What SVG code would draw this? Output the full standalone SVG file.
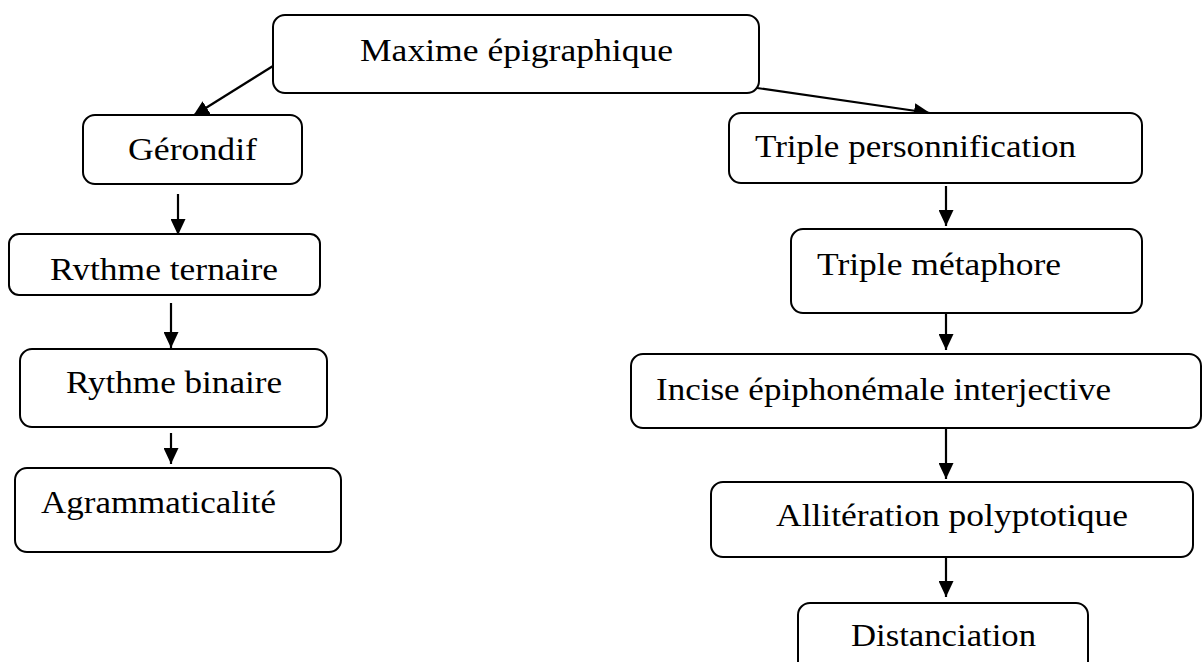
<svg xmlns="http://www.w3.org/2000/svg" width="1203" height="662" viewBox="0 0 1203 662">
<style>
.box{fill:#fff;stroke:#000;stroke-width:2}
.lbl{font-family:"Liberation Serif","Times New Roman",serif;font-size:32px;fill:#000}
.edge{stroke:#000;stroke-width:2.2;fill:none}
</style>
<defs>
<marker id="ah" markerUnits="userSpaceOnUse" markerWidth="16" markerHeight="15" refX="16" refY="7.5" orient="auto">
<path d="M0,0 L16,7.5 L0,15 z" fill="#000"/>
</marker>
<clipPath id="clipRT"><rect x="9" y="234" width="311" height="46"/></clipPath>
</defs>
<rect width="1203" height="662" fill="#fff"/>
<g id="connectors">
<line class="edge" x1="273" y1="66" x2="193" y2="116" marker-end="url(#ah)"/>
<line class="edge" x1="757" y1="88" x2="930" y2="113" marker-end="url(#ah)"/>
<line class="edge" x1="178" y1="194" x2="178" y2="235" marker-end="url(#ah)"/>
<line class="edge" x1="171" y1="303" x2="171" y2="348" marker-end="url(#ah)"/>
<line class="edge" x1="171" y1="433" x2="171" y2="464" marker-end="url(#ah)"/>
<line class="edge" x1="946" y1="186" x2="946" y2="226" marker-end="url(#ah)"/>
<line class="edge" x1="946" y1="313" x2="946" y2="350" marker-end="url(#ah)"/>
<line class="edge" x1="946" y1="428" x2="946" y2="479" marker-end="url(#ah)"/>
<line class="edge" x1="946" y1="557" x2="946" y2="597" marker-end="url(#ah)"/>
</g>
<g id="n-maxime">
<rect class="box" x="273" y="15" width="486" height="78" rx="12"/>
<text class="lbl" x="360" y="61" textLength="313" lengthAdjust="spacingAndGlyphs">Maxime épigraphique</text>
</g>
<g id="n-gerondif">
<rect class="box" x="83" y="115" width="219" height="69" rx="12"/>
<text class="lbl" x="128" y="160" textLength="129" lengthAdjust="spacingAndGlyphs">Gérondif</text>
</g>
<g id="n-ternaire">
<rect class="box" x="9" y="234" width="311" height="61" rx="10"/>
<text class="lbl" x="50" y="280" textLength="228" lengthAdjust="spacingAndGlyphs" clip-path="url(#clipRT)">Rythme ternaire</text>
</g>
<g id="n-binaire">
<rect class="box" x="20" y="349" width="307" height="78" rx="12"/>
<text class="lbl" x="66" y="393" textLength="216" lengthAdjust="spacingAndGlyphs">Rythme binaire</text>
</g>
<g id="n-agram">
<rect class="box" x="15" y="468" width="326" height="84" rx="12"/>
<text class="lbl" x="41" y="513" textLength="235" lengthAdjust="spacingAndGlyphs">Agrammaticalité</text>
</g>
<g id="n-personn">
<rect class="box" x="729" y="113" width="413" height="70" rx="12"/>
<text class="lbl" x="755" y="157" textLength="321" lengthAdjust="spacingAndGlyphs">Triple personnification</text>
</g>
<g id="n-metaphore">
<rect class="box" x="791" y="229" width="351" height="84" rx="12"/>
<text class="lbl" x="817" y="275" textLength="244" lengthAdjust="spacingAndGlyphs">Triple métaphore</text>
</g>
<g id="n-incise">
<rect class="box" x="631" y="354" width="570" height="74" rx="12"/>
<text class="lbl" x="656" y="400" textLength="455" lengthAdjust="spacingAndGlyphs">Incise épiphonémale interjective</text>
</g>
<g id="n-allit">
<rect class="box" x="711" y="482" width="482" height="75" rx="12"/>
<text class="lbl" x="776" y="526" textLength="352" lengthAdjust="spacingAndGlyphs">Allitération polyptotique</text>
</g>
<g id="n-distanc">
<rect class="box" x="798" y="603" width="290" height="75" rx="12"/>
<text class="lbl" x="851" y="646" textLength="185" lengthAdjust="spacingAndGlyphs">Distanciation</text>
</g>
</svg>
